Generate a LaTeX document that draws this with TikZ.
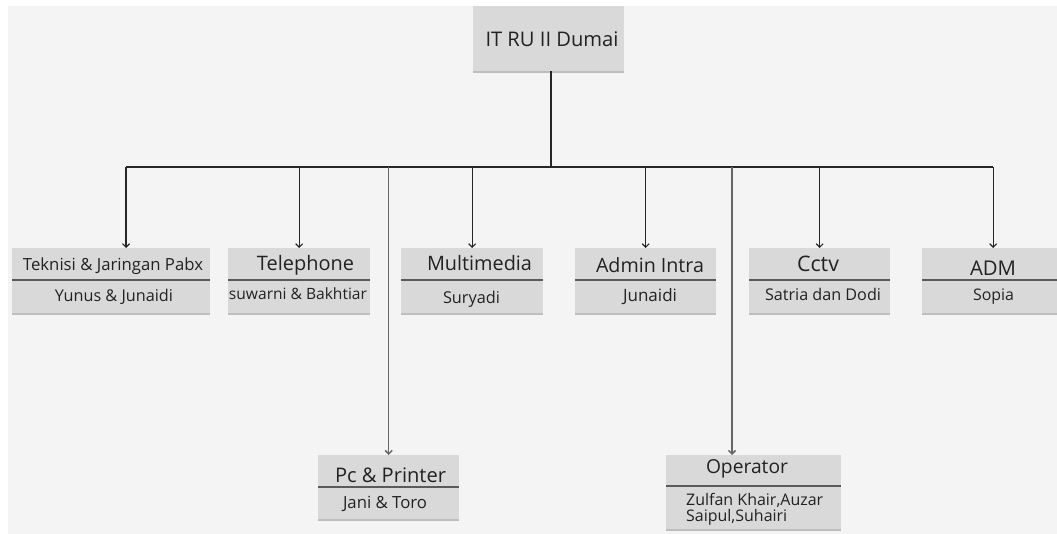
\documentclass[tikz,border=0pt]{standalone}
\usepackage{fontspec}
\setmainfont{Open Sans}
\usetikzlibrary{arrows.meta,shadows,calc}
\definecolor{bg}{HTML}{F4F4F4}
\definecolor{boxfill}{HTML}{D9D9D9}
\definecolor{divc}{HTML}{5A5A5A}
\definecolor{txt}{HTML}{222222}
\newcommand{\fw}[2]{\resizebox{#1pt}{!}{#2}}
\begin{document}
\begin{tikzpicture}[x=1pt,y=-1pt,
  card/.style={fill=boxfill, draw=none, inner sep=0, anchor=north west,
    drop shadow={shadow xshift=0pt, shadow yshift=-2pt, opacity=0.22, fill=black}},
  lbl/.style={inner sep=0, text=txt},
  lblw/.style={inner sep=0, text=txt, anchor=west},
  divider/.style={draw=divc, line width=1.4pt},
  bus/.style={draw=black!85, line width=1.1pt},
  drop/.style={bus, -{Straight Barb[length=3.5pt,width=7pt]}},
  longdrop/.style={drop, draw=black!60, line width=1.5pt}
]
\useasboundingbox (0,0) rectangle (1057,534);
\fill[white] (0,0) rectangle (1057,534);
\fill[bg] (8,6) rectangle (1057,534);

% boxes
\node[card, minimum width=151pt, minimum height=65pt] (it) at (473,6) {};
\node[card, minimum width=198pt, minimum height=65pt] (tek) at (12,248) {};
\node[card, minimum width=142pt, minimum height=65pt] (tel) at (228,248) {};
\node[card, minimum width=142pt, minimum height=65pt] (mul) at (401,248) {};
\node[card, minimum width=141pt, minimum height=65pt] (adi) at (575,248) {};
\node[card, minimum width=141pt, minimum height=65pt] (cct) at (749,248) {};
\node[card, minimum width=142pt, minimum height=65pt] (adm) at (922,248) {};
\node[card, minimum width=141pt, minimum height=64pt] (pc) at (318,455) {};
\node[card, minimum width=175pt, minimum height=74pt] (op) at (666,455) {};

% dividers
\foreach \b in {tek,tel,mul,adi,cct,adm}{
  \draw[divider] ($(\b.north west)+(0,32)$) -- ($(\b.north east)+(0,32)$);
}
\draw[divider] ($(pc.north west)+(0,32)$) -- ($(pc.north east)+(0,32)$);
\draw[divider] ($(op.north west)+(0,31)$) -- ($(op.north east)+(0,31)$);

% texts
\node[lbl] (itT) at (552,39) {\fw{133}{IT RU II Dumai}};
\node[lbl] (tekT) at (113,266) {\fw{180}{Teknisi \& Jaringan Pabx}};
\node[lbl] (tekS) at (114,296.5) {\fw{118}{Yunus \& Junaidi}};
\node[lbl] (telT) at (305.5,265.5) {\fw{97}{Telephone}};
\node[lbl] (telS) at (298,294) {\fw{138}{suwarni \& Bakhtiar}};
\node[lbl] (mulT) at (479.5,263) {\fw{105}{Multimedia}};
\node[lbl] (mulS) at (471.5,299) {\fw{57}{Suryadi}};
\node[lbl] (adiT) at (650,265) {\fw{108}{Admin Intra}};
\node[lbl] (adiS) at (650,297) {\fw{54}{Junaidi}};
\node[lbl] (cctT) at (818,264) {\fw{42}{Cctv}};
\node[lbl] (cctS) at (823,294.5) {\fw{116}{Satria dan Dodi}};
\node[lbl] (admT) at (993,268) {\fw{46}{ADM}};
\node[lbl] (admS) at (993.5,296.5) {\fw{41}{Sopia}};
\node[lbl] (pcT) at (390.5,475) {\fw{111}{Pc \& Printer}};
\node[lbl] (pcS) at (385,504) {\fw{84}{Jani \& Toro}};
\node[lbl] (opT) at (747,469) {\fw{82}{Operator}};
\node[lblw] (opS1) at (686,500) {\fw{137}{Zulfan Khair,Auzar}};
\node[lblw] (opS2) at (686,517) {\fw{101}{Saipul,Suhairi}};

% connectors
\coordinate (j) at (551,167);
\coordinate (busL) at (126,167);
\coordinate (busR) at (adm.north |- j);
\coordinate (opx) at (732,167);
\draw[bus] (j |- it.south) -- (j);
\draw[bus] (busL) -- (busR);
\draw[drop] (busL) -- (busL |- tek.north);
\draw[drop] (tel.north |- j) -- (tel.north);
\draw[drop] (mul.north |- j) -- (mul.north);
\draw[drop] (adi.north |- j) -- (adi.north);
\draw[drop] (cct.north |- j) -- (cct.north);
\draw[drop] (busR) -- (adm.north);
\draw[longdrop] (pc.north |- j) -- (pc.north);
\draw[longdrop] (opx) -- (opx |- op.north);
\end{tikzpicture}
\end{document}
